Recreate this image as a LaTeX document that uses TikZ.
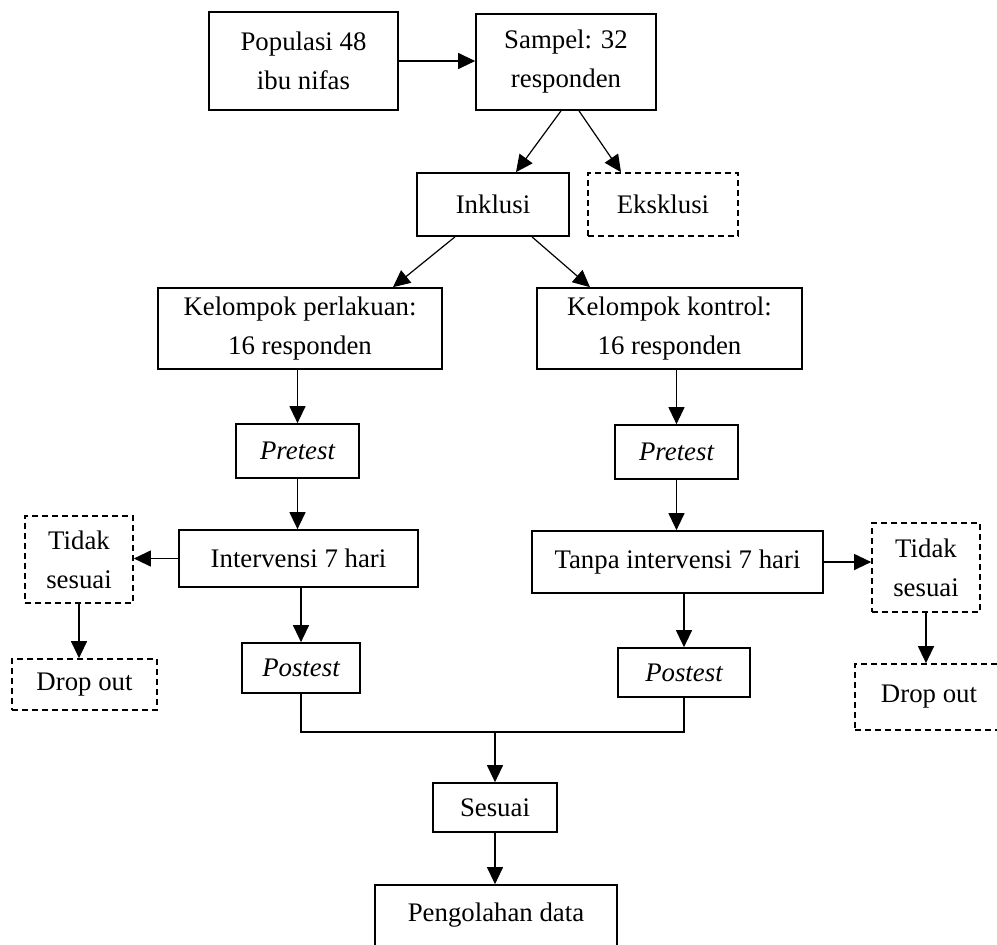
\documentclass[tikz,border=0pt]{standalone}
\usepackage{fontspec}
\setmainfont{Liberation Serif}
\usetikzlibrary{arrows.meta,calc}
\begin{document}
\begin{tikzpicture}[x=0.5pt,y=-0.5pt,
  every node/.style={font=\fontsize{13.4pt}{19.5pt}\selectfont},
  box/.style={draw, line width=0.85pt, rectangle, align=center, inner sep=0pt},
  dbox/.style={box, dash pattern=on 3pt off 2pt},
  arr/.style={line width=0.6pt, -{Triangle[length=8.5pt,width=8pt]}},
  ln/.style={line width=0.6pt}]
\useasboundingbox (0,0) rectangle (997,944);

\node[box, minimum width=94.5pt, minimum height=49pt] (pop) at (303.5,61) {Populasi 48\\ibu nifas};
\node[box, minimum width=90pt, minimum height=48pt] (samp) at (566,62) {Sampel: 32\\responden};
\node[box, minimum width=76pt, minimum height=31.5pt] (ink) at (493,204.5) {Inklusi};
\node[dbox, minimum width=75pt, minimum height=31.5pt] (eks) at (663,204.5) {Eksklusi};
\node[box, minimum width=142pt, minimum height=40.5pt] (kp) at (300,328.5) {Kelompok perlakuan:\\16 responden};
\node[box, minimum width=132.5pt, minimum height=40.5pt] (kk) at (669.5,328.5) {Kelompok kontrol:\\16 responden};
\node[box, minimum width=61.5pt, minimum height=27pt] (preL) at (297.5,451) {\itshape Pretest};
\node[box, minimum width=61.5pt, minimum height=27pt] (preR) at (676.5,452) {\itshape Pretest};
\node[box, minimum width=119.5pt, minimum height=28.5pt] (intL) at (298.5,558.5) {Intervensi 7 hari};
\node[box, minimum width=145.5pt, minimum height=31pt] (intR) at (677.5,562) {Tanpa intervensi 7 hari};
\node[dbox, minimum width=54pt, minimum height=43.5pt] (tsL) at (79,559.5) {Tidak\\sesuai};
\node[dbox, minimum width=54pt, minimum height=44.5pt] (tsR) at (926,567.5) {Tidak\\sesuai};
\node[dbox, minimum width=72.5pt, minimum height=25.5pt] (doL) at (84.5,684.5) {Drop out};
\node[dbox, minimum width=74pt, minimum height=33pt] (doR) at (929,697) {Drop out};
\node[box, minimum width=59pt, minimum height=25pt] (postL) at (301,668) {\itshape Postest};
\node[box, minimum width=66pt, minimum height=24.5pt] (postR) at (684,672.5) {\itshape Postest};
\node[box, minimum width=62pt, minimum height=24.5pt] (ses) at (495,807.5) {Sesuai};
\node[box, minimum width=121pt, inner sep=0pt, text height=18pt, text depth=19.5pt, anchor=base] (peng) at (496,921) {Pengolahan data};

\coordinate (mL) at (301,732);
\coordinate (mR) at (684,732);
\coordinate (mC) at (495,732);

\draw[arr] (pop.east) -- (pop.east -| samp.west);
\draw[arr] ($(samp.south)+(-5,0)$) -- ($(ink.north)+(23,0)$);
\draw[arr] ($(samp.south)+(13,0)$) -- ($(eks.north)+(-42,0)$);
\draw[arr] ($(ink.south)+(-38,0)$) -- ($(kp.north)+(93,0)$);
\draw[arr] ($(ink.south)+(39,0)$) -- ($(kk.north)+(-79.5,0)$);
\draw[arr] (preL.north |- kp.south) -- (preL.north);
\draw[arr] (preL.south) -- (preL.south |- intL.north);
\draw[arr] (intL.west) -- (intL.west -| tsL.east);
\draw[arr] (tsL.south) -- (tsL.south |- doL.north);
\draw[arr] (postL.north |- intL.south) -- (postL.north);
\draw[arr] (preR.north |- kk.south) -- (preR.north);
\draw[arr] (preR.south) -- (preR.south |- intR.north);
\draw[arr] (intR.east) -- (intR.east -| tsR.west);
\draw[arr] (tsR.south) -- (tsR.south |- doR.north);
\draw[arr] (postR.north |- intR.south) -- (postR.north);
\draw[ln] (postL.south) -- (mL) -- (mR) -- (postR.south);
\draw[arr] (mC) -- (mC |- ses.north);
\draw[arr] (ses.south) -- (ses.south |- peng.north);
\end{tikzpicture}
\end{document}
